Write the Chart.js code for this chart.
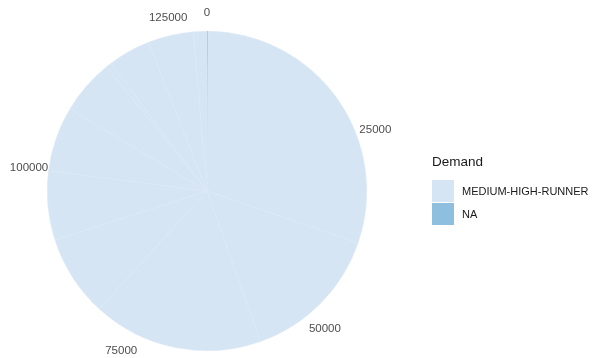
<!DOCTYPE html>
<html><head><meta charset="utf-8">
<script src="https://cdn.jsdelivr.net/npm/chart.js@4"></script>
<style>
html,body{margin:0;padding:0;background:#fff;}
#wrap{position:relative;width:603px;height:358px;}
#legend{position:absolute;left:432px;top:153px;font-family:"Liberation Sans",Arial,sans-serif;color:#1a1a1a;}
#legend .t{font-size:13.5px;line-height:18px;margin-bottom:9px;}
#legend .r{display:flex;align-items:center;height:22.5px;}
#legend .k{width:22px;height:22px;margin-right:8px;}
#legend .l{font-size:11px;}
</style></head>
<body><div id="wrap"><canvas id="c" width="603" height="358"></canvas><div id="legend"></div></div>
<script>
const categories = ["NA","MEDIUM-HIGH-RUNNER","MEDIUM-HIGH-RUNNER","MEDIUM-HIGH-RUNNER","MEDIUM-HIGH-RUNNER","MEDIUM-HIGH-RUNNER","MEDIUM-HIGH-RUNNER","MEDIUM-HIGH-RUNNER","MEDIUM-HIGH-RUNNER","MEDIUM-HIGH-RUNNER","MEDIUM-HIGH-RUNNER","MEDIUM-HIGH-RUNNER"];
const values = [150,39060,18490,22300,10680,9065,8490,7230,720,5575,5970,1760];
const tickLabels = [0,25000,50000,75000,100000,125000];
const legendLevels = ["MEDIUM-HIGH-RUNNER","NA"];
const levelColors = {"MEDIUM-HIGH-RUNNER":"#D6E5F4","NA":"#8FBFDF"};

const ticksPlugin = {
  id:'ticks',
  afterDraw(chart){
    const meta = chart.getDatasetMeta(0);
    const arc = meta.data[0];
    const cx = arc.x, cy = arc.y, r = arc.outerRadius;
    const total = values.reduce((a,b)=>a+b,0);
    const ctx = chart.ctx;
    ctx.save();
    ctx.font = '11.5px "Liberation Sans", Arial, sans-serif';
    ctx.fillStyle = '#4d4d4d';
    ctx.textAlign='center'; ctx.textBaseline='middle';
    tickLabels.forEach(v=>{
      const a = v/total*2*Math.PI;
      const rr = r*1.125;
      ctx.fillText(String(v), cx+rr*Math.sin(a), cy-rr*Math.cos(a)+2);
    });
    ctx.restore();
  }
};

new Chart(document.getElementById('c'),{
  type:'pie',
  data:{labels:categories,datasets:[{data:values,
    backgroundColor:categories.map(c=>levelColors[c]),
    borderColor:categories.map(c=>c==="NA"?levelColors["NA"]:'#DAE8F5'),
    borderWidth:0.5}]},
  options:{responsive:false,animation:false,
    layout:{padding:{left:47,right:236,top:31,bottom:7}},
    plugins:{legend:{display:false},tooltip:{enabled:false}}},
  plugins:[ticksPlugin]
});

const lg = document.getElementById('legend');
lg.innerHTML = '<div class="t">Demand</div>' + legendLevels.map(l=>
  `<div class="r"><div class="k" style="background:${levelColors[l]}"></div><div class="l">${l}</div></div>`).join('');
</script></body></html>
